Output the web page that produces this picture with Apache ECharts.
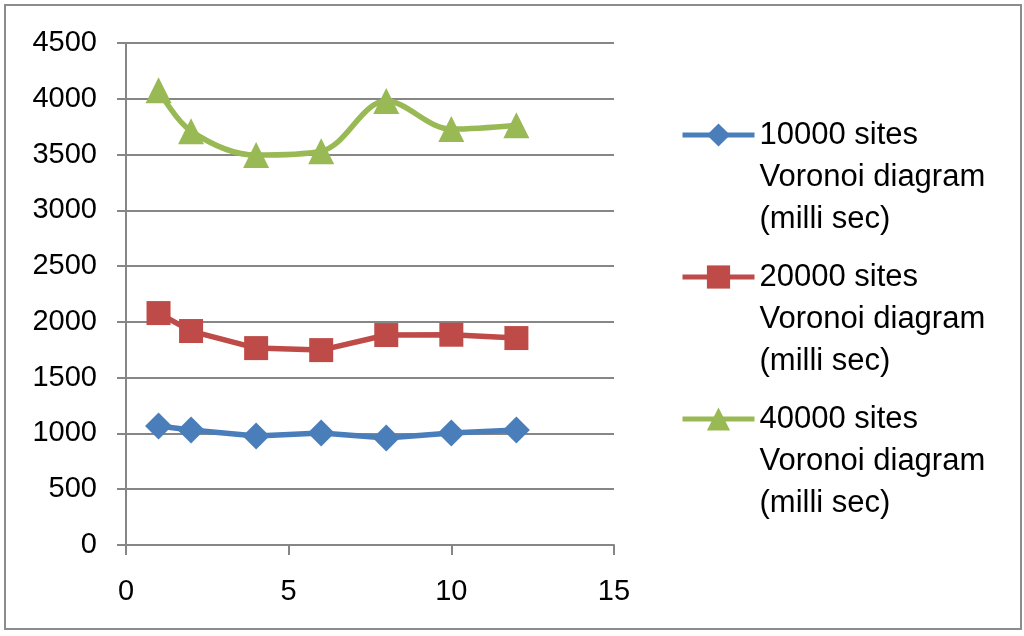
<!DOCTYPE html>
<html>
<head>
<meta charset="utf-8">
<script src="https://cdn.jsdelivr.net/npm/echarts@6/dist/echarts.min.js"></script>
<style>
html,body{margin:0;padding:0;background:#fff;}
#frame{position:absolute;left:4px;top:4px;width:1014px;height:622px;border:2px solid #8c8c8c;}
#chart{position:absolute;left:0;top:0;width:1024px;height:636px;}
</style>
</head>
<body>
<div id="frame"></div>
<div id="chart"></div>
<script>
const xValues = [1, 2, 4, 6, 8, 10, 12];
const seriesNames = [
  '10000 sites\nVoronoi diagram\n(milli sec)',
  '20000 sites\nVoronoi diagram\n(milli sec)',
  '40000 sites\nVoronoi diagram\n(milli sec)'
];
const sites10000 = [1066, 1030, 977, 1004, 959, 1004, 1030];
const sites20000 = [2079, 1918, 1765, 1747, 1882, 1885, 1855];
const sites40000 = [4077, 3710, 3495, 3530, 3979, 3728, 3763];
const colors = ['#4A7EBB', '#BE4B48', '#98B954'];
const symbols = ['diamond', 'rect', 'triangle'];
const symbolSizes = [27, 24, 26];

const allData = [sites10000, sites20000, sites40000];
const font = 'Liberation Sans';

const series = allData.map((vals, i) => ({
  name: seriesNames[i],
  type: 'line',
  data: xValues.map((x, j) => [x, vals[j]]),
  symbol: symbols[i],
  symbolSize: symbolSizes[i],
  smooth: i === 2 ? 0.35 : false,
  lineStyle: { color: colors[i], width: 5.5 },
  itemStyle: { color: colors[i] },
  z: 2 + i
}));

const legendTops = [30, 172, 314];
const legends = seriesNames.map((n, i) => ({
  data: [n],
  orient: 'vertical',
  left: 680,
  top: legendTops[i],
  padding: 0,
  itemWidth: 72,
  itemHeight: 29,
  lineStyle: { width: 5 },
  formatter: name => '\n\n' + name,
  textStyle: {
    fontFamily: font,
    fontSize: 31,
    lineHeight: 42,
    color: '#000'
  }
}));

const chart = echarts.init(document.getElementById('chart'));
chart.setOption({
  backgroundColor: 'transparent',
  animation: false,
  color: colors,
  legend: legends,
  grid: { left: 126, right: 410, top: 43, bottom: 91 },
  xAxis: {
    type: 'value',
    min: 0, max: 15, interval: 5,
    axisLine: { show: true, lineStyle: { color: '#868686', width: 2 } },
    axisTick: { show: true, length: 10, lineStyle: { color: '#868686', width: 2 } },
    axisLabel: { fontFamily: font, fontSize: 29, color: '#000', margin: 32, formatter: v => String(v) },
    splitLine: { show: false }
  },
  yAxis: {
    type: 'value',
    min: 0, max: 4500, interval: 500,
    axisLine: { show: true, lineStyle: { color: '#868686', width: 2 } },
    axisTick: { show: true, length: 9, lineStyle: { color: '#868686', width: 2 } },
    axisLabel: { fontFamily: font, fontSize: 29, color: '#000', margin: 29, formatter: v => String(v) },
    splitLine: { show: true, lineStyle: { color: '#868686', width: 2 } }
  },
  series: series
});
</script>
</body>
</html>
